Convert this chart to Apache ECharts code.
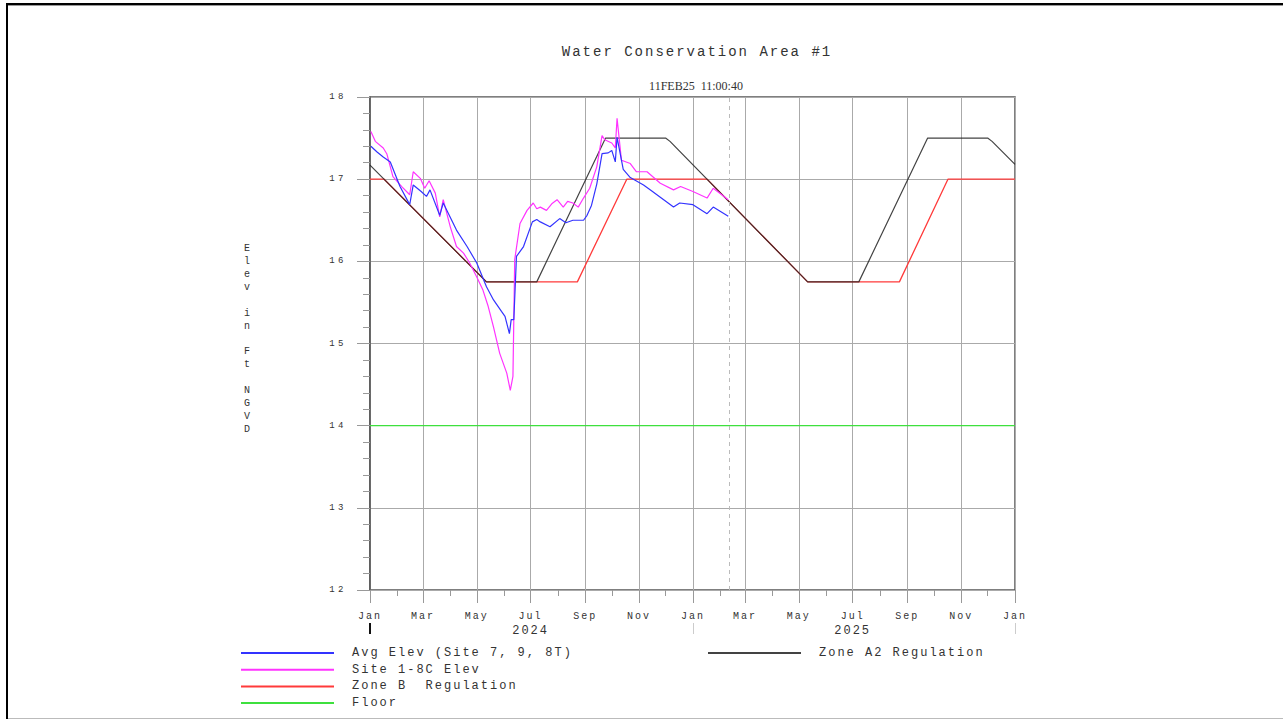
<!DOCTYPE html>
<html><head><meta charset="utf-8">
<script src="https://cdn.jsdelivr.net/npm/echarts@6/dist/echarts.min.js"></script>
<style>
html,body{margin:0;padding:0;background:#fff;}
#c{width:1283px;height:721px;}
svg text{white-space:pre;}
svg text[style*="Liberation Mono"]{letter-spacing:2px;}
svg text[style*=" 9px"][style*="Liberation Mono"]{letter-spacing:3.5px;}
</style></head><body><div id="c"></div>
<script>
// ---------- data ----------
const avgDates = ['2024-01-02','2024-01-09','2024-01-16','2024-01-24','2024-02-04','2024-02-15','2024-02-19','2024-02-28','2024-03-05','2024-03-09','2024-03-20','2024-03-24','2024-04-08','2024-04-20','2024-05-01','2024-05-12','2024-05-20','2024-05-29','2024-06-02','2024-06-07','2024-06-09','2024-06-12','2024-06-15','2024-06-23','2024-07-03','2024-07-08','2024-07-12','2024-07-23','2024-08-03','2024-08-10','2024-08-18','2024-08-30','2024-09-03','2024-09-08','2024-09-14','2024-09-20','2024-09-27','2024-10-01','2024-10-05','2024-10-07','2024-10-14','2024-10-22','2024-11-06','2024-11-15','2024-11-25','2024-12-10','2024-12-17','2025-01-01','2025-01-17','2025-01-24','2025-02-10'];
const avgValues = [17.40,17.33,17.27,17.21,16.91,16.69,16.93,16.85,16.79,16.87,16.56,16.71,16.38,16.18,15.98,15.69,15.53,15.39,15.33,15.12,15.29,15.29,16.06,16.18,16.48,16.51,16.48,16.42,16.52,16.47,16.50,16.50,16.56,16.68,16.94,17.31,17.32,17.35,17.21,17.51,17.12,17.02,16.93,16.86,16.78,16.66,16.71,16.69,16.58,16.66,16.55];

const siteDates = ['2024-01-02','2024-01-07','2024-01-16','2024-01-20','2024-01-27','2024-02-06','2024-02-15','2024-02-19','2024-02-27','2024-03-03','2024-03-08','2024-03-15','2024-03-20','2024-03-24','2024-04-01','2024-04-08','2024-04-16','2024-04-23','2024-05-01','2024-05-08','2024-05-14','2024-05-20','2024-05-27','2024-06-04','2024-06-08','2024-06-11','2024-06-13','2024-06-19','2024-06-27','2024-07-04','2024-07-08','2024-07-12','2024-07-19','2024-07-25','2024-07-31','2024-08-07','2024-08-12','2024-08-18','2024-08-24','2024-08-30','2024-09-06','2024-09-14','2024-09-20','2024-09-23','2024-10-01','2024-10-05','2024-10-07','2024-10-12','2024-10-22','2024-10-29','2024-11-10','2024-11-25','2024-12-10','2024-12-18','2025-01-01','2025-01-17','2025-01-24','2025-02-10'];
const siteValues = [17.58,17.46,17.38,17.31,17.03,16.91,16.81,17.09,17.01,16.89,16.98,16.83,16.54,16.75,16.42,16.18,16.10,15.98,15.81,15.65,15.45,15.20,14.88,14.64,14.43,14.60,16.02,16.46,16.62,16.71,16.64,16.66,16.62,16.70,16.75,16.66,16.73,16.71,16.66,16.77,16.89,17.15,17.53,17.48,17.44,17.38,17.74,17.23,17.19,17.09,17.09,16.95,16.87,16.91,16.85,16.77,16.89,16.75];

const zoneBDates = ['2024-01-01','2024-01-17','2024-05-12','2024-08-23','2024-10-18','2025-01-17','2025-05-11','2025-08-23','2025-10-17','2026-01-01'];
const zoneBValues = [17.00,17.00,15.75,15.75,17.00,17.00,15.75,15.75,17.00,17.00];

const zoneA2Dates = ['2024-01-01','2024-05-12','2024-07-08','2024-09-24','2024-12-01','2024-12-06','2025-05-11','2025-07-08','2025-09-24','2025-12-01','2025-12-06','2026-01-01'];
const zoneA2Values = [17.17,15.75,15.75,17.50,17.50,17.46,15.75,15.75,17.50,17.50,17.46,17.18];

const floorDates = ['2024-01-01','2026-01-01'];
const floorValues = [14.0,14.0];

const markerDate = '2025-02-11';

const majorTickDates = ['2024-01-01','2024-03-01','2024-05-01','2024-07-01','2024-09-01','2024-11-01','2025-01-01','2025-03-01','2025-05-01','2025-07-01','2025-09-01','2025-11-01','2026-01-01'];
const majorTickLabels = ['Jan','Mar','May','Jul','Sep','Nov','Jan','Mar','May','Jul','Sep','Nov','Jan'];
const minorTickDates = ['2024-01-01','2024-02-01','2024-03-01','2024-04-01','2024-05-01','2024-06-01','2024-07-01','2024-08-01','2024-09-01','2024-10-01','2024-11-01','2024-12-01','2025-01-01','2025-02-01','2025-03-01','2025-04-01','2025-05-01','2025-06-01','2025-07-01','2025-08-01','2025-09-01','2025-10-01','2025-11-01','2025-12-01','2026-01-01'];
const yearLabelDates = ['2024-07-01','2025-07-01'];
const yearLabels = ['2024','2025'];
const yearMarkDates = ['2025-01-01','2026-01-01'];
const firstYearMarkDates = ['2024-01-01'];

const yMin = 12, yMax = 18, yStep = 1;

const titleText = 'Water Conservation Area #1';
const subText = '11FEB25  11:00:40';
const yName = 'Elev in Ft NGVD';
const names = ['Avg Elev (Site 7, 9, 8T)','Site 1-8C Elev','Zone B  Regulation','Floor','Zone A2 Regulation'];

// ---------- helpers ----------
const ts = s => { const [y,m,d] = s.split('-').map(Number); return new Date(y, m-1, d).getTime(); };
const pairs = (ds, vs) => ds.map((d,i) => [ts(d), vs[i]]);
const labelMap = {}; majorTickDates.forEach((d,i) => labelMap[ts(d)] = majorTickLabels[i]);
const yearMap = {}; yearLabelDates.forEach((d,i) => yearMap[ts(d)] = yearLabels[i]);
const findLabel = (map, v) => { for (const k in map) { if (Math.abs(k - v) < 43200000) return map[k]; } return ''; };

const MONO = 'Liberation Mono';
const xMin = ts('2024-01-01'), xMax = ts('2026-01-01');
const baseX = { type:'value', min:xMin, max:xMax, gridIndex:0, position:'bottom', axisLine:{onZero:false, show:false}, splitLine:{show:false}, axisLabel:{show:false}, axisTick:{show:false} };
const legendBase = {orient:'vertical', top:647, itemWidth:93, itemHeight:14, itemGap:4.7, padding:0, selectedMode:false,
  itemStyle:{opacity:0}, textStyle:{fontFamily:MONO, fontSize:12, color:'#333', padding:[0,0,0,13]}};

const chart = echarts.init(document.getElementById('c'), null, {renderer:'svg', width:1283, height:721});
chart.setOption({
  animation:false,
  backgroundColor:'#fff',
  grid:{left:370, top:97, width:645, height:493, show:true, borderColor:'#555', borderWidth:1.5, backgroundColor:'transparent'},
  xAxis:[
    Object.assign({}, baseX, {
      axisTick:{show:true, length:13, customValues:majorTickDates.map(ts), lineStyle:{color:'#999'}},
      axisLabel:{show:true, customValues:majorTickDates.map(ts), margin:21, fontFamily:MONO, fontSize:10, color:'#333', formatter:v => findLabel(labelMap, v)},
      splitLine:{show:true, lineStyle:{color:'#aaa', width:1}}
    }),
    Object.assign({}, baseX, {
      axisTick:{show:true, length:6, customValues:minorTickDates.map(ts), lineStyle:{color:'#999'}}
    }),
    Object.assign({}, baseX, {
      offset:33,
      axisTick:{show:true, length:11, customValues:yearMarkDates.map(ts), lineStyle:{color:'#ccc', width:1}},
      axisLabel:{show:true, customValues:yearLabelDates.map(ts), margin:2, fontFamily:MONO, fontSize:12, color:'#333', formatter:v => findLabel(yearMap, v)}
    }),
    Object.assign({}, baseX, {
      offset:33,
      axisTick:{show:true, length:11, customValues:firstYearMarkDates.map(ts), lineStyle:{color:'#111', width:2}}
    })
  ],
  yAxis:{
    type:'value', min:yMin, max:yMax, interval:yStep,
    axisLine:{show:true, lineStyle:{color:'#555', width:1.5}},
    axisTick:{show:true, length:13, lineStyle:{color:'#999'}},
    minorTick:{show:true, splitNumber:5, length:7, lineStyle:{color:'#999'}},
    splitLine:{show:true, lineStyle:{color:'#aaa', width:1}},
    axisLabel:{margin:23, fontFamily:MONO, fontSize:9, color:'#333'}
  },
  legend:[
    Object.assign({}, legendBase, {data:names.slice(0,4), left:240}),
    Object.assign({}, legendBase, {data:names.slice(4), left:707})
  ],
  graphic:[
    {type:'rect', silent:true, shape:{x:6, y:3, width:2, height:716}, style:{fill:'#000'}},
    {type:'rect', silent:true, shape:{x:6, y:3, width:1277, height:2}, style:{fill:'#000'}},
    {type:'rect', silent:true, shape:{x:8, y:5, width:1275, height:1}, style:{fill:'#999'}},
    {type:'rect', silent:true, shape:{x:8, y:718, width:1275, height:1}, style:{fill:'#bbb'}},
    {type:'text', x:697, y:52, silent:true, style:{text:titleText, fontFamily:MONO, fontSize:14, fill:'#333', align:'center', verticalAlign:'middle', textAlign:'center', textVerticalAlign:'middle'}},
    {type:'text', x:696, y:86, silent:true, style:{text:subText, fontFamily:'Liberation Serif', fontSize:12, fill:'#333', align:'center', verticalAlign:'middle', textAlign:'center', textVerticalAlign:'middle'}},
    {type:'text', x:248, y:339, silent:true, style:{text:yName.split('').join('\n'), fontFamily:MONO, fontSize:10, lineHeight:12.93, fill:'#333', align:'center', verticalAlign:'middle', textAlign:'center', textVerticalAlign:'middle'}}
  ],
  series:[
    {name:names[3], type:'line', symbol:'none', data:pairs(floorDates, floorValues), lineStyle:{color:'#3ee03e', width:1.4}, itemStyle:{color:'#3ee03e'}, z:2},
    {name:names[2], type:'line', symbol:'none', data:pairs(zoneBDates, zoneBValues), lineStyle:{color:'#ff3a3a', width:1.3}, itemStyle:{color:'#ff3a3a'}, z:3},
    {name:names[4], type:'line', symbol:'none', data:pairs(zoneA2Dates, zoneA2Values), lineStyle:{color:'#222', width:1.2, opacity:0.85}, itemStyle:{color:'#222'}, z:4},
    {name:names[1], type:'line', symbol:'none', data:pairs(siteDates, siteValues), lineStyle:{color:'#ff33ff', width:1.2}, itemStyle:{color:'#ff33ff'}, z:5},
    {name:names[0], type:'line', symbol:'none', data:pairs(avgDates, avgValues), lineStyle:{color:'#3333ff', width:1.2}, itemStyle:{color:'#3333ff'}, z:6,
     markLine:{silent:true, symbol:'none', label:{show:false}, lineStyle:{color:'#bbb', type:[4,4], width:1}, data:[{xAxis:ts(markerDate)}]}}
  ]
});
</script></body></html>
